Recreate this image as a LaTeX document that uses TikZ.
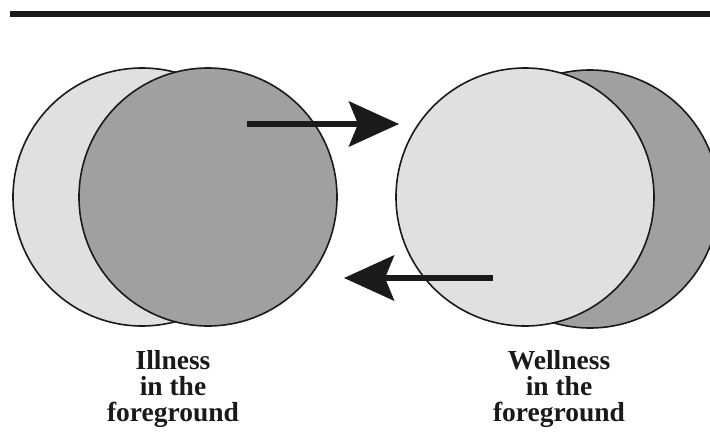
\documentclass[tikz,border=0pt]{standalone}
\usepackage{fontspec}
\setmainfont{Liberation Serif}
\usetikzlibrary{arrows.meta}
\definecolor{lightg}{HTML}{E0E0E0}
\definecolor{darkg}{HTML}{A0A0A0}
\definecolor{ink}{HTML}{1A1A1A}
\begin{document}
\begin{tikzpicture}[x=1pt,y=-1pt,
  disc/.style={circle,draw=ink,line width=1.6pt,minimum size=258pt,inner sep=0pt},
  bigarrow/.style={draw=ink,line width=6pt,-{Stealth[length=50pt,width=45pt,inset=9pt]}},
  label/.style={align=center,font=\fontsize{27.5}{26}\selectfont\bfseries,text=ink}]
\useasboundingbox (0,0) rectangle (710,437);
\clip (0,0) rectangle (710,437);
\fill[ink] (10,10.5) rectangle (710,16.5);
% left pair
\node[disc,fill=lightg] (l1) at (142,197) {};
\node[disc,fill=darkg] (l2) at (208,197) {};
% right pair
\node[disc,fill=darkg] (r2) at (590,199) {};
\node[disc,fill=lightg] (r1) at (525,197) {};
% arrows
\coordinate (a1s) at (247,124);
\coordinate (a1e) at (399,124);
\coordinate (a2s) at (493,278);
\coordinate (a2e) at (344,278);
\draw[bigarrow] (a1s) -- (a1e);
\draw[bigarrow] (a2s) -- (a2e);
% labels
\node[label] (tl) at (173,389) {Illness\\in the\\foreground};
\node[label] (tr) at (559,389) {Wellness\\in the\\foreground};
\end{tikzpicture}
\end{document}
